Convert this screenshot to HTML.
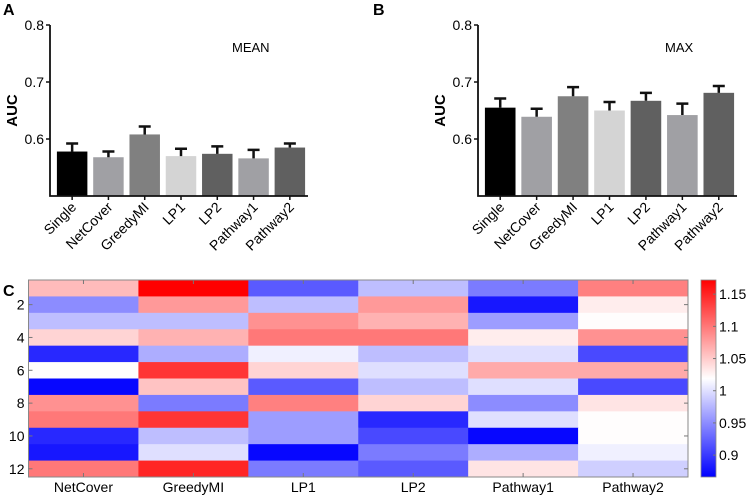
<!DOCTYPE html>
<html><head><meta charset="utf-8">
<style>
html,body{margin:0;padding:0;background:#fff;}
svg{display:block;font-family:"Liberation Sans",Arial,sans-serif;}
</style></head>
<body>
<svg id="fig" width="747" height="496" viewBox="0 0 747 496">
  <text x="3" y="15" font-size="16" font-weight="bold">A</text>
  <text x="373" y="15" font-size="16" font-weight="bold">B</text>
  <text x="3" y="296" font-size="16" font-weight="bold">C</text>
  <g id="panelA"></g>
  <g id="panelB"></g>
  <g id="panelC"></g>
</svg>
<script>
const categories = ["Single","NetCover","GreedyMI","LP1","LP2","Pathway1","Pathway2"];
const barColors = ["#000000","#a0a0a4","#808080","#d4d4d4","#606060","#a0a0a4","#606060"];
const meanValues = [0.578,0.568,0.608,0.570,0.574,0.566,0.585];
const meanErrors = [0.014,0.010,0.014,0.013,0.013,0.015,0.007];
const maxValues = [0.655,0.639,0.675,0.650,0.667,0.642,0.681];
const maxErrors = [0.016,0.014,0.016,0.015,0.014,0.020,0.012];
const yTicks = [0.6,0.7,0.8];

const heatCols = ["NetCover","GreedyMI","LP1","LP2","Pathway1","Pathway2"];
const heatRowLabels = [2,4,6,8,10,12];
const heatValues = [
 [1.06,1.18,0.92,0.98,0.94,1.095],
 [0.95,1.08,0.98,1.08,0.88,1.03],
 [0.98,0.98,1.085,1.065,0.96,1.02],
 [1.045,1.065,1.10,1.10,1.03,1.085],
 [0.89,0.97,1.01,0.98,1.00,0.91],
 [1.02,1.14,1.045,1.00,1.07,1.07],
 [0.87,1.055,0.92,0.98,1.00,0.91],
 [1.085,0.94,1.095,1.045,0.95,1.035],
 [1.10,1.14,0.96,0.89,1.00,1.02],
 [0.89,0.98,0.96,0.91,0.87,1.02],
 [0.88,1.00,0.87,0.94,0.97,1.01],
 [1.10,1.15,0.94,0.92,1.035,0.99]
];
const cbarTicks = [0.9,0.95,1,1.05,1.1,1.15];

const NS="http://www.w3.org/2000/svg";
function mk(tag,attrs,parent){const e=document.createElementNS(NS,tag);for(const k in attrs)e.setAttribute(k,attrs[k]);parent.appendChild(e);return e;}

function barPanel(g,x0,x1,values,errors,title,titleX){
  const yTop=25,yBot=196,vTop=0.8,vBot=0.5;
  const y=v=>yBot-(v-vBot)/(vTop-vBot)*(yBot-yTop);
  const step=(x1-x0-4)/categories.length, bw=step*0.84;
  const t=mk('text',{x:titleX,y:52,'font-size':13},g); t.textContent=title;
  
  
  const yt=mk('text',{x:0,y:0,'font-size':15,'font-weight':'bold','text-anchor':'middle',transform:`translate(${x0-33},${y(0.65)}) rotate(-90)`},g);
  yt.textContent="AUC";
  
  
  categories.forEach((c,i)=>{
    const cx=x0+4+step*i+step/2;
    const v=values[i], e=errors[i];
    const r=mk('rect',{x:cx-bw/2,y:y(v),width:bw,height:yBot-y(v),fill:barColors[i]},g);
    
    
    const eb=mk('path',{d:`M${cx},${y(v)}V${y(v+e)}M${cx-6},${y(v+e)}H${cx+6}`,stroke:'#111','stroke-width':2.5,fill:'none'},g);
    
    
    mk('line',{x1:cx,x2:cx,y1:yBot,y2:yBot+4,stroke:'#111','stroke-width':1.5},g);
    const lt=mk('text',{x:0,y:0,'font-size':14,'text-anchor':'end',transform:`translate(${cx+5},${yBot+12}) rotate(-45)`},g);
    lt.textContent=c;
    
    
  });
  const ax=mk('path',{d:`M${x0},${yTop}V${yBot}H${x1}`,stroke:'#111','stroke-width':1.8,fill:'none'},g);
  
  
  yTicks.forEach(v=>{
    mk('line',{x1:x0-4,x2:x0,y1:y(v),y2:y(v),stroke:'#111','stroke-width':1.5},g);
    const tt=mk('text',{x:x0-6,y:y(v)+5,'font-size':14,'text-anchor':'end'},g);
    tt.textContent=v.toFixed(1);
    
    
  });
}
barPanel(document.getElementById('panelA'),50,308,meanValues,meanErrors,"MEAN",232);
barPanel(document.getElementById('panelB'),478,737,maxValues,maxErrors,"MAX",665);

(function(){
  const g=document.getElementById('panelC');
  const L=28.5,R=688,T=280,B=477;
  const cw=(R-L)/heatCols.length, rh=(B-T)/heatValues.length;
  const vMin=0.866,vMax=1.172,vMid=(vMin+vMax)/2;
  function color(v){
    let r,gg,b;
    if(v<vMid){const t=Math.max(0,Math.min(1,(v-vMin)/(vMid-vMin)));r=gg=Math.round(255*t);b=255;}
    else{const t=Math.max(0,Math.min(1,(vMax-v)/(vMax-vMid)));r=255;gg=b=Math.round(255*t);}
    return `rgb(${r},${gg},${b})`;
  }
  heatValues.forEach((row,i)=>row.forEach((v,j)=>{
    const c=mk('rect',{x:L+j*cw,y:T+i*rh,width:cw+0.5,height:rh+0.5,fill:color(v)},g);
    
    
  }));
  mk('rect',{x:L,y:T,width:R-L,height:B-T,fill:'none',stroke:'#888','stroke-width':1},g);
  heatCols.forEach((c,j)=>{
    const cx=L+j*cw+cw/2;
    mk('line',{x1:cx,x2:cx,y1:T,y2:T+4,stroke:'#777'},g);
    mk('line',{x1:cx,x2:cx,y1:B,y2:B-4,stroke:'#777'},g);
    const t=mk('text',{x:cx,y:B+15,'font-size':14,'text-anchor':'middle'},g);
    t.textContent=c;
    
    
  });
  heatRowLabels.forEach(n=>{
    const cy=T+(n-0.5)*rh;
    mk('line',{x1:L,x2:L+4,y1:cy,y2:cy,stroke:'#777'},g);
    mk('line',{x1:R,x2:R-4,y1:cy,y2:cy,stroke:'#777'},g);
    const t=mk('text',{x:L-4,y:cy+5,'font-size':14,'text-anchor':'end'},g);
    t.textContent=n;
    
    
  });
  const cL=701,cR=716;
  const defs=mk('defs',{},g);
  const lg=mk('linearGradient',{id:'cb',x1:0,y1:1,x2:0,y2:0},defs);
  mk('stop',{offset:'0','stop-color':'rgb(0,0,255)'},lg);
  mk('stop',{offset:'0.5','stop-color':'rgb(255,255,255)'},lg);
  mk('stop',{offset:'1','stop-color':'rgb(255,0,0)'},lg);
  const cb=mk('rect',{x:cL,y:T,width:cR-cL,height:B-T,fill:'url(#cb)',stroke:'#888','stroke-width':0.8},g);
  
  
  const cy=v=>B-(v-vMin)/(vMax-vMin)*(B-T);
  cbarTicks.forEach(v=>{
    mk('line',{x1:cR-3,x2:cR,y1:cy(v),y2:cy(v),stroke:'#777'},g);
    const t=mk('text',{x:cR+3,y:cy(v)+5,'font-size':14},g);
    t.textContent=String(v);
    
    
  });
})();
</script>
</body></html>
